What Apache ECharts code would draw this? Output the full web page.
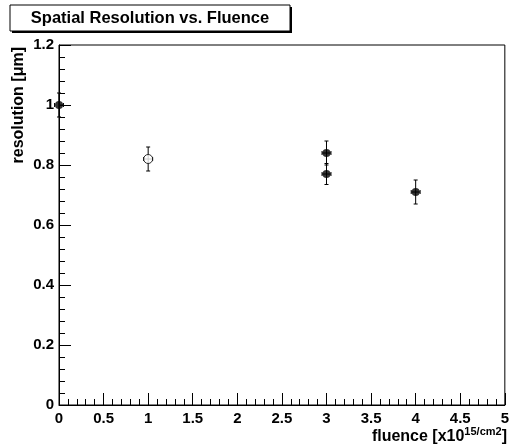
<!DOCTYPE html>
<html>
<head>
<meta charset="utf-8">
<script src="https://cdn.jsdelivr.net/npm/echarts@6/dist/echarts.min.js"></script>
<style>
  html, body { margin:0; padding:0; background:#fff; }
  #chart { width:512px; height:446px; }
</style>
</head>
<body>
<div id="chart"></div>
<script>
/* data */
const fluence    = [0, 1, 3, 3, 4];
const resolution = [1.00, 0.82, 0.84, 0.77, 0.71];
const resErr     = [0.04, 0.04, 0.04, 0.035, 0.04];
const fluErr     = [0.05, 0.05, 0.05, 0.05, 0.05];
const openMarker = [false, true, false, false, false];

const FONT = 'Liberation Sans, Arial, Helvetica, sans-serif';

const points = fluence.map((x, i) => [x, resolution[i], resErr[i], fluErr[i]]);

const chart = echarts.init(document.getElementById('chart'), null, { renderer: 'canvas' });

// error bars with little caps
function errRender(params, api) {
  const x = api.value(0), y = api.value(1), ey = api.value(2), ex = api.value(3);
  const c  = api.coord([x, y]);
  const hi = api.coord([x, y + ey]);
  const lo = api.coord([x, y - ey]);
  const l  = api.coord([x - ex, y]);
  const r  = api.coord([x + ex, y]);
  const st = { stroke: '#000', lineWidth: 1 };
  const cap = 2;
  return {
    type: 'group',
    children: [
      { type: 'line', shape: { x1: c[0], y1: hi[1], x2: c[0], y2: lo[1] }, style: st },
      { type: 'line', shape: { x1: c[0] - cap, y1: hi[1], x2: c[0] + cap, y2: hi[1] }, style: st },
      { type: 'line', shape: { x1: c[0] - cap, y1: lo[1], x2: c[0] + cap, y2: lo[1] }, style: st },
      { type: 'line', shape: { x1: Math.max(l[0], params.coordSys.x), y1: c[1], x2: r[0], y2: c[1] }, style: st },
      { type: 'line', shape: { x1: l[0], y1: c[1] - cap, x2: l[0], y2: c[1] + cap }, style: st },
      { type: 'line', shape: { x1: r[0], y1: c[1] - cap, x2: r[0], y2: c[1] + cap }, style: st }
    ]
  };
}

const axisCommon = {
  type: 'value',
  axisLine: { show: true, lineStyle: { color: '#000', width: 1 } },
  axisTick: { show: true, inside: true, length: 12, lineStyle: { color: '#000' } },
  minorTick: { show: true, splitNumber: 5, length: 6, lineStyle: { color: '#000' } },
  splitLine: { show: false },
  minorSplitLine: { show: false },
  axisLabel: { color: '#000', fontFamily: FONT, fontWeight: 'bold', fontSize: 15 }
};

chart.setOption({
  animation: false,
  backgroundColor: '#fff',
  grid: { left: 59, right: 4, top: 45, bottom: 41, show: true, borderColor: '#000', borderWidth: 1, backgroundColor: 'transparent' },
  xAxis: Object.assign({}, axisCommon, {
    min: 0, max: 5, interval: 0.5,
    axisLabel: Object.assign({}, axisCommon.axisLabel, { margin: 6 })
  }),
  yAxis: Object.assign({}, axisCommon, {
    min: 0, max: 1.2, interval: 0.2,
    axisLabel: Object.assign({}, axisCommon.axisLabel, { margin: 5 })
  }),
  series: [
    {
      type: 'custom',
      renderItem: errRender,
      data: points,
      encode: { x: 0, y: 1 },
      z: 2
    },
    {
      type: 'scatter',
      data: points.map((p, i) => ({
        value: [p[0], p[1]],
        symbolSize: openMarker[i] ? 9 : 8,
        itemStyle: openMarker[i]
          ? { color: '#fff', borderColor: '#000', borderWidth: 1 }
          : { color: '#000' }
      })),
      symbol: 'circle',
      z: 3
    }
  ],
  graphic: [
    // title box with drop shadow
    { type: 'rect', shape: { x: 12, y: 7, width: 280, height: 26 }, style: { fill: '#000' }, z: 10 },
    { type: 'rect', shape: { x: 10, y: 5, width: 280, height: 26 }, style: { fill: '#fff', stroke: '#000', lineWidth: 1 }, z: 11 },
    { type: 'text', x: 150, y: 18, z: 12,
      style: { text: 'Spatial Resolution vs. Fluence', fill: '#000', font: 'bold 16.5px ' + FONT, align: 'center', verticalAlign: 'middle' } },
    // y axis title
    { type: 'text', x: 19, y: 47, rotation: Math.PI / 2, z: 12,
      style: { text: 'resolution [\u03bcm]', fill: '#000', font: 'bold 16px ' + FONT, align: 'right', verticalAlign: 'middle' } },
    // x axis title with superscript
    { type: 'text', x: 507, y: 437, z: 12,
      style: {
        text: '{a|fluence [x10}{b|15/cm2}{a|]}',
        align: 'right', verticalAlign: 'middle',
        rich: {
          a: { fill: '#000', font: 'bold 16px ' + FONT },
          b: { fill: '#000', font: 'bold 11px ' + FONT, padding: [0, 0, 11, 0] }
        }
      } }
  ]
});
</script>
</body>
</html>
